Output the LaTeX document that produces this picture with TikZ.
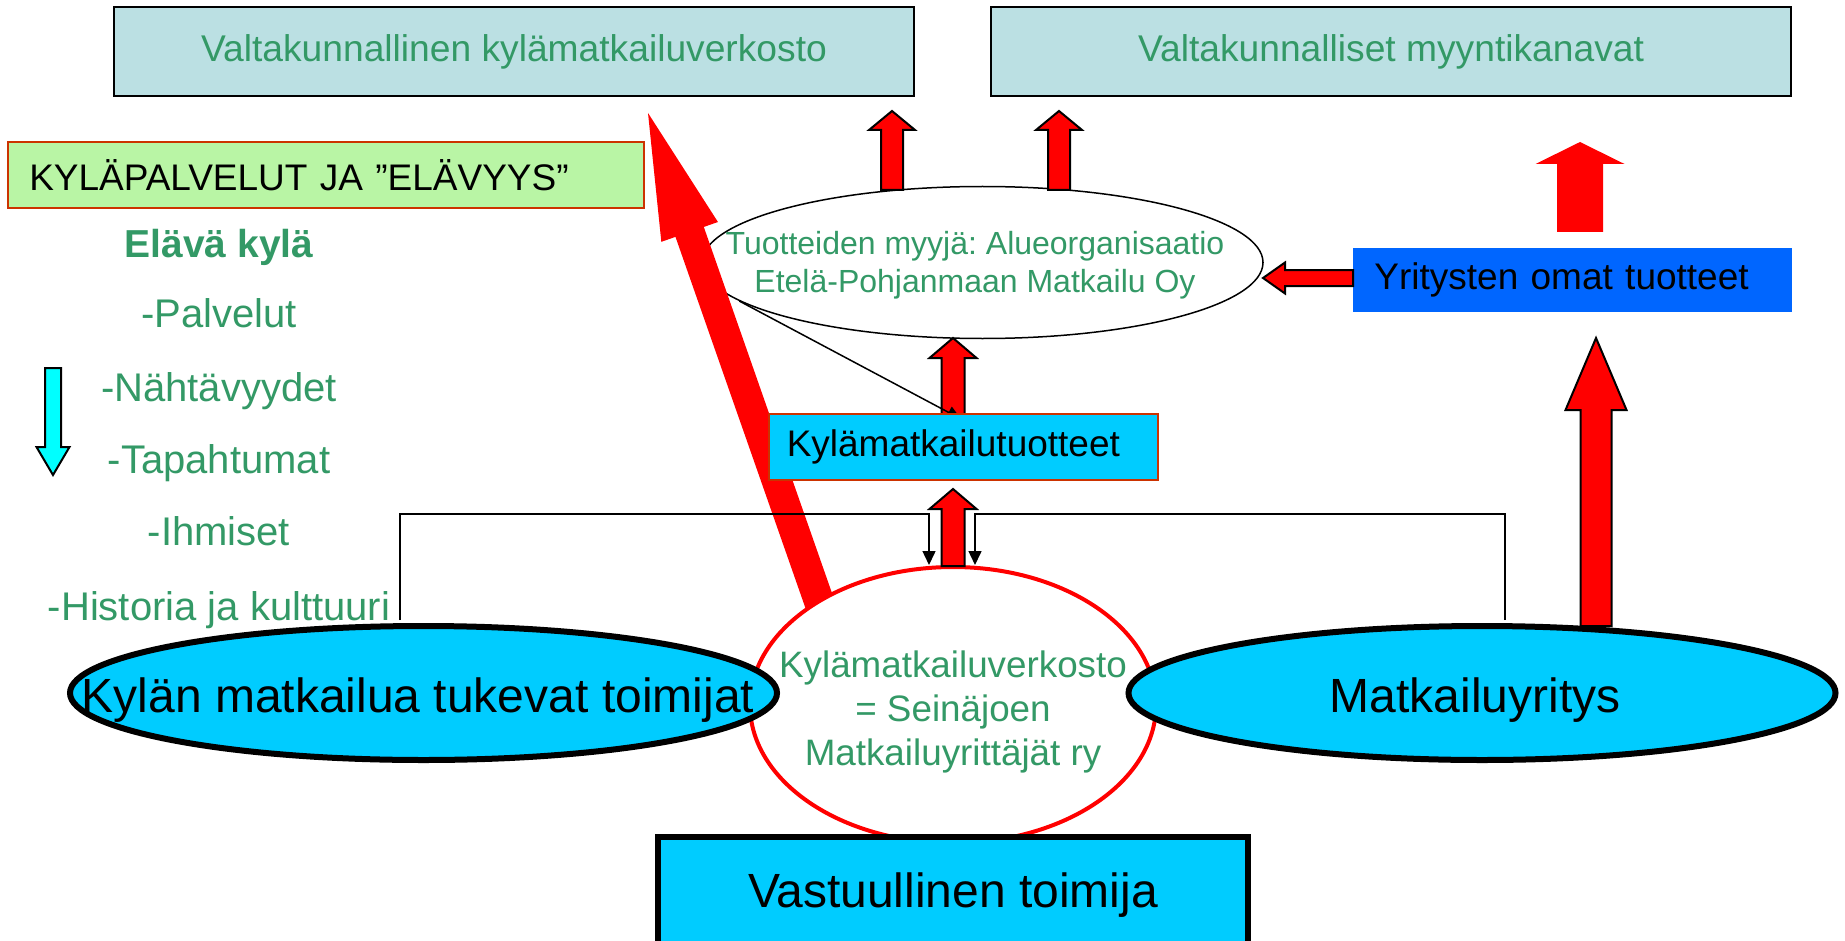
\documentclass[tikz,border=0pt]{standalone}
\usepackage{fontspec}
\setmainfont{Liberation Sans}
\usetikzlibrary{calc,positioning,shapes.geometric,arrows.meta}
\definecolor{boxteal}{RGB}{187,224,227}
\definecolor{textgreen}{RGB}{51,153,102}
\definecolor{lightlime}{RGB}{185,245,165}
\definecolor{rustred}{RGB}{204,51,0}
\definecolor{skycyan}{RGB}{0,204,255}
\definecolor{brightblue}{RGB}{0,102,255}
\definecolor{aqua}{RGB}{0,255,255}
\frenchspacing
\newcommand{\fsz}[2]{\fontsize{#1}{#2}\selectfont}
% block arrow: [style]{tail}{tip}{half shaft}{half head}{head length}
\newcommand{\fatarrow}[6][]{%
  \coordinate (fa-base) at ($(#3)!#6!(#2)$);
  \path[#1] ($(#2)!#4!90:(#3)$) -- ($(fa-base)!#4!90:(#3)$)
    -- ($(fa-base)!#5!90:(#3)$) -- (#3)
    -- ($(fa-base)!#5!-90:(#3)$) -- ($(fa-base)!#4!-90:(#3)$)
    -- ($(#2)!#4!-90:(#3)$) -- cycle;
}

\begin{document}
\begin{tikzpicture}[x=0.5pt,y=-0.5pt,
    topbox/.style={draw,line width=1pt,fill=boxteal,text=textgreen,
        font=\fsz{18.6}{22},minimum width=400pt,minimum height=44.5pt},
    cyanoval/.style={ellipse,draw,line width=3pt,fill=skycyan,
        minimum width=353.5pt,minimum height=67pt,inner sep=0pt},
    bigtext/.style={font=\fsz{24}{29},anchor=base},
    listitem/.style={text=textgreen,font=\fsz{20}{24},anchor=base},
    leftbox/.style={anchor=west,align=left,font=\fsz{18.5}{22}},
    redblock/.style={fill=red,draw=black,line width=1pt},
    redplain/.style={fill=red},
    link/.style={line width=0.75pt,-{Triangle[length=7pt,width=6.5pt]}}
]
\useasboundingbox (0,0) rectangle (1845,941);
\clip (0,0) rectangle (1845,941);

% national level
\node[topbox] (netbox) at (514,51.5) {Valtakunnallinen kylämatkailuverkosto};
\node[topbox] (salesbox) at (1391,51.5) {Valtakunnalliset myyntikanavat};

% village services
\node[leftbox,draw=rustred,line width=0.75pt,fill=lightlime,text width=296.5pt,
    inner xsep=10.75pt,minimum height=33pt] (village) at (7,175) {KYLÄPALVELUT JA ”ELÄVYYS”};
\node[listitem,font=\bfseries\fsz{19.5}{24}] (alive) at (219,257) {Elävä kylä};
\foreach \y/\t in {327/-Palvelut,401/-Nähtävyydet,473/-Tapahtumat,545/-Ihmiset,620/-Historia ja kulttuuri} {
    \node[listitem] (item-\y) at (219,\y) {\t};
}
\coordinate (down-top) at (53,368);
\coordinate (down-tip) at (53,475);
\fatarrow[fill=aqua,draw=black,line width=1pt]{down-top}{down-tip}{4pt}{8.25pt}{14pt}

% regional seller
\node[ellipse,draw,line width=0.75pt,fill=white,minimum width=280.5pt,
    minimum height=76pt,inner sep=0pt] (sellers) at (982.5,262.5) {};
\node[text=textgreen,font=\fsz{16}{19},align=center] (sellers-text) at (975,265)
    {Tuotteiden myyjä: Alueorganisaatio\\Etelä-Pohjanmaan Matkailu Oy};

% long arrow to the national network
\coordinate (big-tail) at (822,610);
\coordinate (big-tip) at (648,113);
\fatarrow[redplain]{big-tail}{big-tip}{7.5pt}{15pt}{63pt}

% seller to national level
\coordinate (up1-tail) at (892,190);
\coordinate (up1-tip) at (892,111);
\coordinate (up2-tail) at (1059,190);
\coordinate (up2-tip) at (1059,111);
\fatarrow[redblock]{up1-tail}{up1-tip}{5.5pt}{11.5pt}{9.5pt}
\fatarrow[redblock]{up2-tail}{up2-tip}{5.5pt}{11.5pt}{9.5pt}

% own products of the companies
\node[leftbox,fill=brightblue,text width=198.5pt,inner xsep=10.5pt,
    minimum height=32pt] (own) at (1353,280) {Yritysten omat tuotteet};
\coordinate (own-tip) at (1263,278);
\coordinate (own-tail) at (1353,278);
\fatarrow[redblock]{own-tail}{own-tip}{4pt}{7.75pt}{11pt}
\coordinate (plain-tail) at (1580,232);
\coordinate (plain-tip) at (1580,142);
\fatarrow[redplain]{plain-tail}{plain-tip}{11.5pt}{22.25pt}{11pt}

% village tourism products
\coordinate (mid1-tail) at (953,414);
\coordinate (mid1-tip) at (953,338);
\fatarrow[redblock]{mid1-tail}{mid1-tip}{5.75pt}{11.75pt}{10pt}
\coordinate (prod-tip) at (961,419);
\draw[line width=0.75pt,-{Triangle[length=7pt,width=6.5pt]}] (sellers.189) -- (prod-tip);
\node[leftbox,draw=rustred,line width=0.75pt,fill=skycyan,text width=176.5pt,
    inner xsep=9pt,minimum height=33pt] (prodbox) at (768,447) {Kylämatkailutuotteet};

% village tourism network
\node[ellipse,draw=red,line width=2pt,fill=white,minimum width=203pt,
    minimum height=138pt,inner sep=0pt] (network) at (953,705) {};
\node[text=textgreen,font=\fsz{18.4}{22},align=center] (network-text) at (953,712)
    {Kylämatkailuverkosto\\= Seinäjoen\\Matkailuyrittäjät ry};
\coordinate (mid2-tail) at (953,566);
\coordinate (mid2-tip) at (953,489);
\fatarrow[redblock]{mid2-tail}{mid2-tip}{5.75pt}{11.75pt}{10pt}

% actors
\node[cyanoval] (actors) at (423.5,693) {};
\node[cyanoval] (firm) at (1482,693) {};
\draw[link] ([xshift=-11.75pt,yshift=1.5pt]actors.north) -- ++(0,-106) -| ([xshift=-12pt]network.north);
\draw[link] ([xshift=11.5pt,yshift=1.5pt]firm.north) -- ++(0,-106) -| ([xshift=11pt]network.north);
\node[bigtext] (actors-text) at (418,712) {Kylän matkailua tukevat toimijat};
\node[bigtext] (firm-text) at (1475,712) {Matkailuyritys};
\coordinate (firm-tail) at (1596,626);
\coordinate (firm-tip) at (1596,338);
\fatarrow[redblock]{firm-tail}{firm-tip}{7.75pt}{15.25pt}{36pt}

% responsible actor
\node[draw,line width=3pt,fill=skycyan,minimum width=295pt,minimum height=58pt,
    font=\fsz{24}{29}] (resp) at (953,895) {Vastuullinen toimija};
\end{tikzpicture}
\end{document}
